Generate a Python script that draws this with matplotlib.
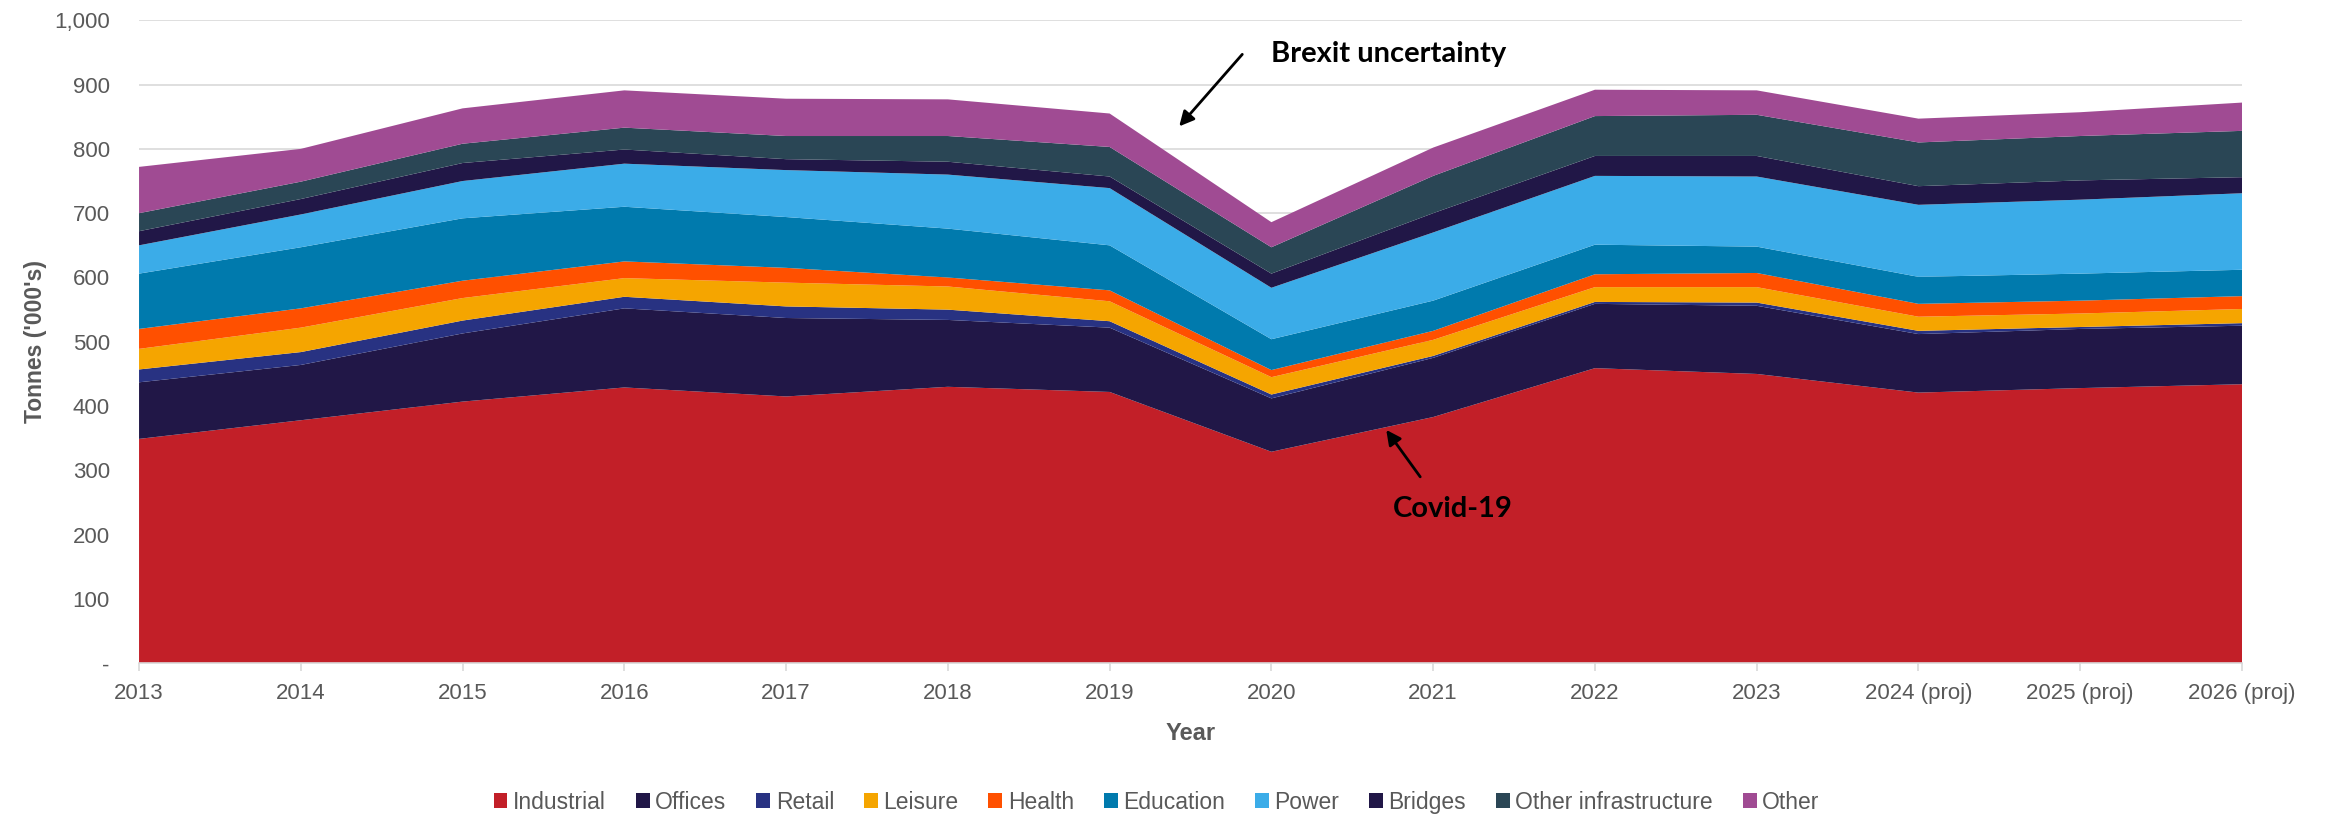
import matplotlib
matplotlib.use("Agg")
import matplotlib.pyplot as plt
from matplotlib.ticker import FuncFormatter, MultipleLocator
import numpy as np

years = ["2013", "2014", "2015", "2016", "2017", "2018", "2019", "2020",
         "2021", "2022", "2023", "2024 (proj)", "2025 (proj)", "2026 (proj)"]

industrial = [349, 378, 407, 429, 415, 430, 422, 329, 383, 459, 450, 421, 428, 434]
offices = [88, 86, 106, 123, 122, 104, 100, 83, 92, 100, 106, 91, 92, 91]
retail = [20, 20, 20, 18, 18, 16, 10, 6, 3, 3, 5, 5, 3, 4]
leisure = [32, 38, 35, 29, 37, 36, 31, 27, 25, 23, 24, 22, 21, 22]
health = [31, 30, 27, 26, 23, 14, 17, 11, 14, 20, 22, 20, 20, 20]
education = [86, 95, 97, 85, 79, 76, 70, 48, 47, 46, 41, 42, 42, 41]
power = [44, 51, 58, 67, 73, 84, 89, 80, 106, 107, 109, 112, 115, 119]
bridges = [22, 24, 28, 22, 17, 20, 18, 22, 30, 31, 32, 29, 30, 25]
other_infra = [28, 27, 30, 34, 36, 40, 46, 41, 58, 62, 64, 68, 69, 72]
other = [72, 51, 55, 58, 58, 57, 52, 39, 44, 41, 38, 37, 37, 44]

series_names = ["Industrial", "Offices", "Retail", "Leisure", "Health",
                "Education", "Power", "Bridges", "Other infrastructure", "Other"]
series_values = [industrial, offices, retail, leisure, health,
                 education, power, bridges, other_infra, other]
colors = ["#C21F28", "#211747", "#283282", "#F5A500", "#FF5000",
          "#007AAD", "#3BACE8", "#211747", "#2A4655", "#A04B93"]

plt.rcParams['font.family'] = ['Liberation Sans', 'DejaVu Sans']
gray = "#595959"

fig = plt.figure(figsize=(23.25, 8.17), dpi=100)
ax = fig.add_axes([0.0598, 0.1881, 0.9045, 0.7871])

x = np.arange(len(years))
ax.stackplot(x, *series_values, colors=colors, labels=series_names, linewidth=0)

ax.set_xlim(0, len(years) - 1)
ax.set_ylim(0, 1000)
ax.yaxis.set_major_locator(MultipleLocator(100))
ax.yaxis.set_major_formatter(FuncFormatter(lambda v, p: "-" if v == 0 else f"{int(v):,}"))
ax.set_xticks(x)
ax.set_xticklabels(years)

ax.grid(axis='y', color="#D9D9D9", linewidth=1.2)
ax.set_axisbelow(True)
for s in ["top", "right", "left"]:
    ax.spines[s].set_visible(False)
ax.spines["bottom"].set_color("#D9D9D9")
ax.spines["bottom"].set_linewidth(1.2)
ax.tick_params(axis='x', colors="#D9D9D9", length=6, width=1.2, labelcolor=gray,
               labelsize=16, pad=8)
ax.tick_params(axis='y', length=0, labelcolor=gray, labelsize=16, pad=21)

ax.set_ylabel("Tonnes ('000's)", fontsize=16.5, fontweight='bold', color=gray, labelpad=5)
ax.set_xlabel("Year", fontsize=17, fontweight='bold', color=gray, labelpad=13)

ax.annotate("", xy=(6.43, 835), xytext=(6.82, 947),
            arrowprops=dict(arrowstyle='-|>', color='black', lw=2, mutation_scale=22,
                            shrinkA=0, shrinkB=0))
ax.text(7.0, 947, "Brexit uncertainty", fontsize=21, fontweight='bold', color='black',
        family=['Lato', 'DejaVu Sans'], ha='left', va='center')
ax.annotate("", xy=(7.71, 363), xytext=(7.92, 290),
            arrowprops=dict(arrowstyle='-|>', color='black', lw=2, mutation_scale=22,
                            shrinkA=0, shrinkB=0))
ax.text(8.12, 240, "Covid-19", fontsize=21, fontweight='bold', color='black',
        family=['Lato', 'DejaVu Sans'], ha='center', va='center')

leg = fig.legend(loc='center', bbox_to_anchor=(0.4975, 0.018), ncol=10, frameon=False,
                 fontsize=16.5, handlelength=0.6, handleheight=0.6, handletextpad=0.25,
                 columnspacing=1.3)
for t in leg.get_texts():
    t.set_color(gray)

fig.savefig("out.png", dpi=100)
